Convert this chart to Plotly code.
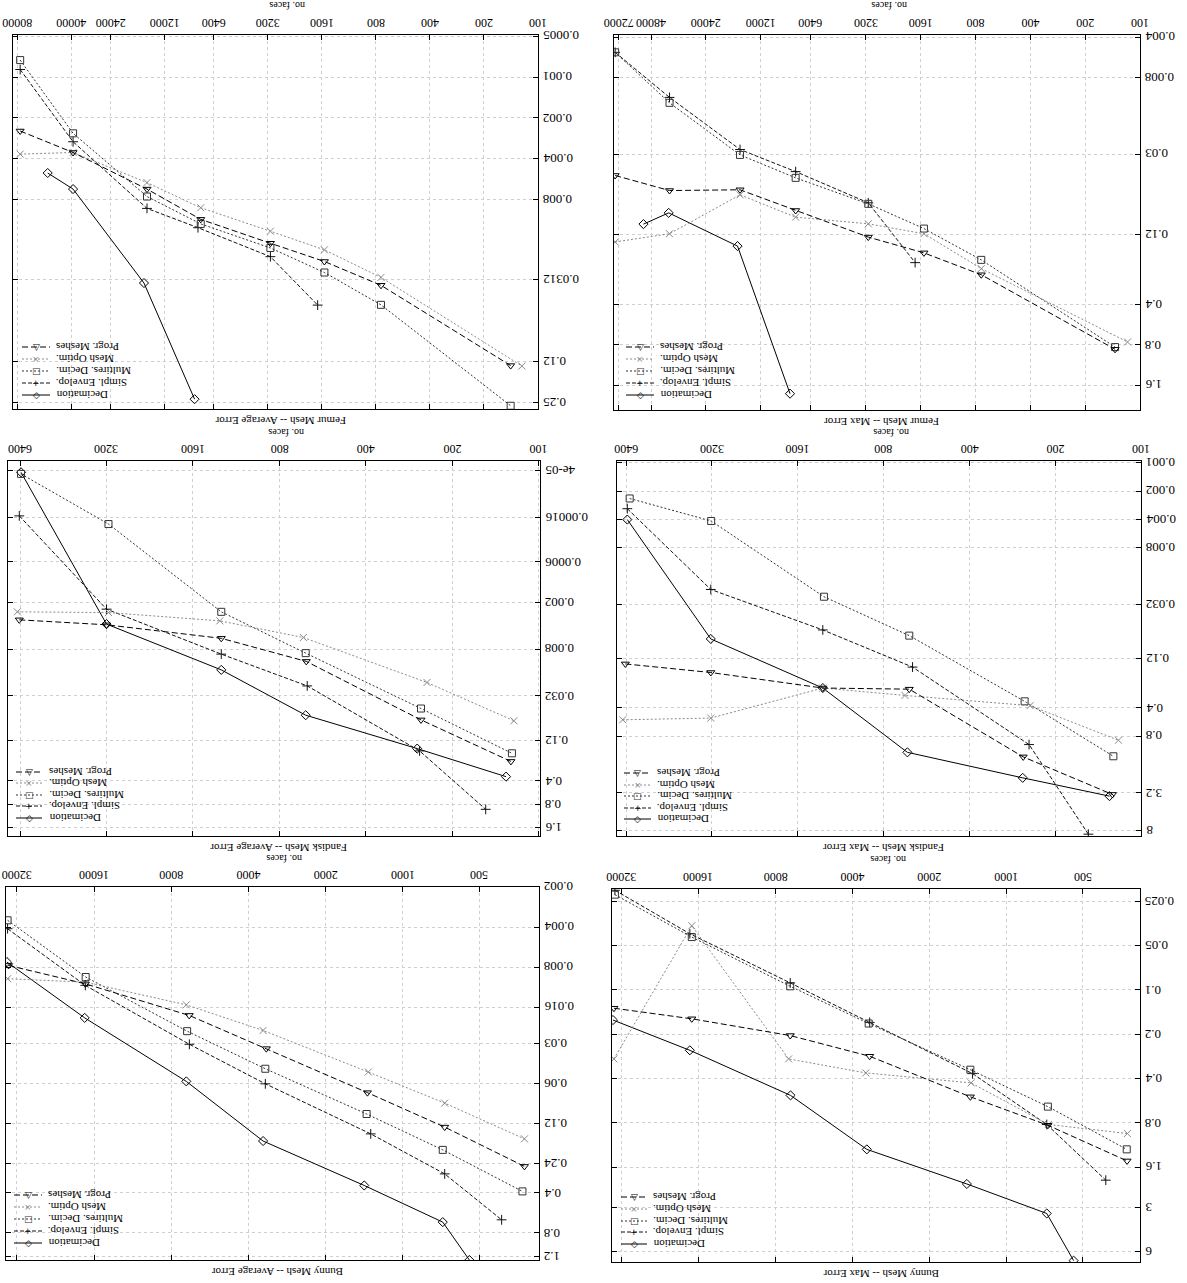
import math
import plotly.graph_objects as go

W, H = 1187, 1283
FONT = "Liberation Serif"

SERIES_NAMES = ["Decimation", "Simpl. Envelop.", "Multires. Decim.", "Mesh Optim.", "Progr. Meshes"]

# ---------------- Femur, average error ----------------
FA_DEC_X = [54000, 39000, 15700, 8200]
FA_DEC_Y = [0.0051, 0.0067, 0.033, 0.237]
FA_SIM_X = [76900, 39000, 15100, 7850, 3100, 1690]
FA_SIM_Y = [0.00088, 0.0030, 0.0093, 0.0129, 0.0211, 0.048]
FA_MUL_X = [76900, 39000, 15100, 7580, 3100, 1550, 750, 142]
FA_MUL_Y = [0.00075, 0.0026, 0.0076, 0.0121, 0.0182, 0.0276, 0.0478, 0.265]
FA_OPT_X = [76900, 39000, 15100, 7580, 3100, 1550, 750, 123]
FA_OPT_Y = [0.0037, 0.0036, 0.0060, 0.0092, 0.0137, 0.0188, 0.030, 0.135]
FA_PRO_X = [76900, 39000, 15100, 7580, 3100, 1550, 750, 142]
FA_PRO_Y = [0.0025, 0.0036, 0.0067, 0.0112, 0.0168, 0.0229, 0.0343, 0.134]

# ---------------- Femur, max error ----------------
FM_DEC_X = [52800, 38400, 16100, 8300]
FM_DEC_Y = [0.100, 0.0824, 0.146, 1.85]
FM_SIM_X = [75500, 38000, 15600, 7730, 3090, 1710]
FM_SIM_Y = [0.0052, 0.0113, 0.0277, 0.0405, 0.0693, 0.194]
FM_MUL_X = [75500, 38000, 15600, 7730, 3090, 1530, 742, 137]
FM_MUL_Y = [0.0052, 0.0124, 0.0304, 0.0451, 0.0705, 0.108, 0.185, 0.83]
FM_OPT_X = [75500, 38000, 15600, 7730, 3090, 1530, 742, 117]
FM_OPT_Y = [0.136, 0.118, 0.0604, 0.0887, 0.0995, 0.118, 0.215, 0.76]
FM_PRO_X = [75500, 38000, 15600, 7730, 3090, 1530, 742, 137]
FM_PRO_Y = [0.0433, 0.0561, 0.0554, 0.0791, 0.125, 0.164, 0.239, 0.862]

# ---------------- Fandisk, average error ----------------
DA_DEC_X = [6350, 3200, 1275, 648, 265, 130]
DA_DEC_Y = [4.2e-05, 0.0038, 0.0148, 0.0568, 0.153, 0.352]
DA_SIM_X = [6440, 3200, 1275, 640, 260, 153]
DA_SIM_Y = [0.000153, 0.00244, 0.00927, 0.0238, 0.164, 0.929]
DA_MUL_X = [6350, 3150, 1275, 648, 257, 124]
DA_MUL_Y = [4.4e-05, 0.000195, 0.00264, 0.0090, 0.0466, 0.176]
DA_OPT_X = [6540, 3150, 1290, 660, 245, 122]
DA_OPT_Y = [0.00264, 0.0027, 0.00345, 0.00566, 0.0215, 0.067]
DA_PRO_X = [6440, 3200, 1275, 645, 257, 125]
DA_PRO_Y = [0.00335, 0.00388, 0.0058, 0.0115, 0.0653, 0.224]

# ---------------- Fandisk, max error ----------------
DM_DEC_X = [6340, 3230, 1307, 660, 260, 129]
DM_DEC_Y = [0.00402, 0.0744, 0.247, 1.19, 2.22, 3.47]
DM_SIM_X = [6340, 3230, 1307, 633, 247, 153]
DM_SIM_Y = [0.00308, 0.0222, 0.0597, 0.148, 0.984, 8.8]
DM_MUL_X = [6220, 3220, 1295, 650, 256, 125]
DM_MUL_Y = [0.0024, 0.00416, 0.0265, 0.0686, 0.342, 1.31]
DM_OPT_X = [6580, 3230, 1307, 673, 245, 120]
DM_OPT_Y = [0.537, 0.515, 0.247, 0.296, 0.38, 0.885]
DM_PRO_X = [6440, 3230, 1307, 650, 259, 126]
DM_PRO_Y = [0.137, 0.169, 0.247, 0.254, 1.33, 3.33]

# ---------------- Bunny, average error ----------------
BA_DEC_X = [35000, 17400, 6980, 3500, 1410, 696, 548]
BA_DEC_Y = [0.00734, 0.0193, 0.058, 0.163, 0.352, 0.664, 1.28]
BA_SIM_X = [34800, 17300, 6790, 3430, 1330, 684, 410]
BA_SIM_Y = [0.00412, 0.0110, 0.0305, 0.0605, 0.144, 0.288, 0.638]
BA_MUL_X = [34800, 17250, 6930, 3430, 1380, 696, 340]
BA_MUL_Y = [0.00356, 0.00951, 0.0243, 0.0466, 0.102, 0.19, 0.39]
BA_OPT_X = [34800, 17300, 6980, 3500, 1360, 684, 334]
BA_OPT_Y = [0.0098, 0.0104, 0.0154, 0.024, 0.0493, 0.0845, 0.157]
BA_PRO_X = [34500, 17300, 6800, 3400, 1370, 684, 334]
BA_PRO_Y = [0.00778, 0.0107, 0.0185, 0.0329, 0.0705, 0.128, 0.253]

# ---------------- Bunny, max error ----------------
BM_DEC_X = [34600, 17300, 6980, 3510, 1424, 693, 544]
BM_DEC_Y = [0.16, 0.257, 0.52, 1.21, 2.08, 3.3, 6.9]
BM_SIM_X = [34000, 17300, 7000, 3420, 1353, 693, 407]
BM_SIM_Y = [0.021, 0.0415, 0.0895, 0.166, 0.37, 0.82, 1.96]
BM_MUL_X = [34000, 17000, 7000, 3450, 1380, 686, 337]
BM_MUL_Y = [0.0225, 0.0437, 0.0944, 0.169, 0.348, 0.62, 1.21]
BM_OPT_X = [34300, 17000, 7100, 3540, 1370, 683, 335]
BM_OPT_Y = [0.294, 0.0366, 0.294, 0.366, 0.428, 0.82, 0.945]
BM_PRO_X = [34300, 17000, 7000, 3420, 1380, 686, 336]
BM_PRO_Y = [0.133, 0.157, 0.204, 0.282, 0.532, 0.83, 1.45]

# ---------------- tick labels ----------------
FA_XTICKS = [100, 200, 400, 800, 1600, 3200, 6400, 12000, 24000, 40000, 80000]
FM_XTICKS = [100, 200, 400, 800, 1600, 3200, 6400, 12000, 24000, 48000, 72000]
D_XTICKS = [100, 200, 400, 800, 1600, 3200, 6400]
B_XTICKS = [500, 1000, 2000, 4000, 8000, 16000, 32000]
FA_YTICKS = [0.0005, 0.001, 0.002, 0.004, 0.008, 0.0312, 0.125, 0.25]
FA_YTEXT = ["0.0005", "0.001", "0.002", "0.004", "0.008", "0.0312", "0.12", "0.25"]
FM_YTICKS = [0.004, 0.008, 0.03, 0.12, 0.4, 0.8, 1.6]
DA_YTICKS = [4e-05, 0.00016, 0.0006, 0.002, 0.008, 0.032, 0.12, 0.4, 0.8, 1.6]
DA_YTEXT = ["4e-05", "0.00016", "0.0006", "0.002", "0.008", "0.032", "0.12", "0.4", "0.8", "1.6"]
DM_YTICKS = [0.001, 0.002, 0.004, 0.008, 0.032, 0.12, 0.4, 0.8, 3.2, 8]
BA_YTICKS = [0.002, 0.004, 0.008, 0.016, 0.03, 0.06, 0.12, 0.24, 0.4, 0.8, 1.2]
BM_YTICKS = [0.025, 0.05, 0.1, 0.2, 0.4, 0.8, 1.6, 3, 6]

TITLES = ["Femur Mesh -- Average Error", "Femur Mesh -- Max Error",
          "Fandisk Mesh -- Average Error", "Fandisk Mesh -- Max Error",
          "Bunny Mesh -- Average Error", "Bunny Mesh -- Max Error"]

STYLES = [
    dict(color="#000000", dash="solid", symbol="diamond-open", glyph="\u25c7"),
    dict(color="#111111", dash="4px,2px", symbol="cross-thin-open", glyph="+"),
    dict(color="#333333", dash="2px,2px", symbol="square-open", glyph="\u25a1"),
    dict(color="#8a8a8a", dash="2px,2px", symbol="x-thin-open", glyph="\u00d7"),
    dict(color="#000000", dash="6px,3px", symbol="triangle-down-open", glyph="\u25bd"),
]

panels = [
    dict(frame=(13, 538, 35, 409), xr=(100, 84300), yr=(0.00049, 0.28),
         xt=FA_XTICKS, xtt=[str(v) for v in FA_XTICKS], yt=FA_YTICKS, ytt=FA_YTEXT,
         data=[(FA_DEC_X, FA_DEC_Y), (FA_SIM_X, FA_SIM_Y), (FA_MUL_X, FA_MUL_Y),
               (FA_OPT_X, FA_OPT_Y), (FA_PRO_X, FA_PRO_Y)],
         leg=(22, 50, 54, [347, 359, 371, 383, 395])),
    dict(frame=(614, 1140, 35, 410), xr=(100, 76600), yr=(0.00386, 2.45),
         xt=FM_XTICKS, xtt=[str(v) for v in FM_XTICKS], yt=FM_YTICKS,
         ytt=[str(v) for v in FM_YTICKS],
         data=[(FM_DEC_X, FM_DEC_Y), (FM_SIM_X, FM_SIM_Y), (FM_MUL_X, FM_MUL_Y),
               (FM_OPT_X, FM_OPT_Y), (FM_PRO_X, FM_PRO_Y)],
         leg=(626, 654, 658, [347, 359, 371, 383, 395])),
    dict(frame=(8, 540, 461, 836), xr=(99, 7050), yr=(3.0e-05, 2.05),
         xt=D_XTICKS, xtt=[str(v) for v in D_XTICKS], yt=DA_YTICKS, ytt=DA_YTEXT,
         data=[(DA_DEC_X, DA_DEC_Y), (DA_SIM_X, DA_SIM_Y), (DA_MUL_X, DA_MUL_Y),
               (DA_OPT_X, DA_OPT_Y), (DA_PRO_X, DA_PRO_Y)],
         leg=(16, 42, 47, [772, 783, 795, 806, 818])),
    dict(frame=(617, 1141, 461, 836), xr=(100, 6890), yr=(0.00096, 9.2),
         xt=D_XTICKS, xtt=[str(v) for v in D_XTICKS], yt=DM_YTICKS,
         ytt=[str(v) for v in DM_YTICKS],
         data=[(DM_DEC_X, DM_DEC_Y), (DM_SIM_X, DM_SIM_Y), (DM_MUL_X, DM_MUL_Y),
               (DM_OPT_X, DM_OPT_Y), (DM_PRO_X, DM_PRO_Y)],
         leg=(624, 651, 655, [773, 785, 796, 808, 819])),
    dict(frame=(6, 539, 887, 1260), xr=(293, 35300), yr=(0.002, 1.28),
         xt=B_XTICKS, xtt=[str(v) for v in B_XTICKS], yt=BA_YTICKS,
         ytt=[str(v) for v in BA_YTICKS],
         data=[(BA_DEC_X, BA_DEC_Y), (BA_SIM_X, BA_SIM_Y), (BA_MUL_X, BA_MUL_Y),
               (BA_OPT_X, BA_OPT_Y), (BA_PRO_X, BA_PRO_Y)],
         leg=(14, 42, 46, [1195, 1207, 1219, 1231, 1243])),
    dict(frame=(612, 1140, 889, 1262), xr=(299, 34900), yr=(0.0206, 7.05),
         xt=B_XTICKS, xtt=[str(v) for v in B_XTICKS], yt=BM_YTICKS,
         ytt=[str(v) for v in BM_YTICKS],
         data=[(BM_DEC_X, BM_DEC_Y), (BM_SIM_X, BM_SIM_Y), (BM_MUL_X, BM_MUL_Y),
               (BM_OPT_X, BM_OPT_Y), (BM_PRO_X, BM_PRO_Y)],
         leg=(621, 647, 651, [1197, 1209, 1221, 1232, 1244])),
]


def px(x):
    return x / W


def py(y):
    return 1 - y / H


fig = go.Figure()
annotations = []
shapes = []
layout = {}
XTICKFONT = dict(family=FONT, size=12, color="black")
YTICKFONT = dict(family=FONT, size=13, color="black")

for i, p in enumerate(panels, start=1):
    l, r, t, b = p["frame"]
    xa = "x" if i == 1 else f"x{i}"
    ya = "y" if i == 1 else f"y{i}"
    for k, ((xs, ys), st) in enumerate(zip(p["data"], STYLES)):
        fig.add_trace(go.Scatter(
            x=xs, y=ys, xaxis=xa, yaxis=ya, mode="lines+markers",
            name=SERIES_NAMES[k], showlegend=False,
            line=dict(color=st["color"], width=1, dash=st["dash"]),
            marker=dict(symbol=st["symbol"], size=7, color=st["color"],
                        line=dict(width=1, color=st["color"])),
        ))
    common = dict(type="log", showline=True, linecolor="black", linewidth=1,
                  mirror="allticks", ticks="inside", ticklen=5, tickcolor="black",
                  showgrid=True, gridcolor="#cfcfcf", griddash="dot", gridwidth=1,
                  zeroline=False, showticklabels=False, automargin=False)
    layout["xaxis" if i == 1 else f"xaxis{i}"] = dict(
        common, domain=[px(l), px(r)], anchor=ya, side="top",
        range=[math.log10(p["xr"][1]), math.log10(p["xr"][0])],
        tickvals=p["xt"])
    layout["yaxis" if i == 1 else f"yaxis{i}"] = dict(
        common, domain=[py(b), py(t)], anchor=xa, side="right",
        range=[math.log10(p["yr"][1]), math.log10(p["yr"][0])],
        tickvals=p["yt"])
    # upside-down tick labels, placed on the axis scales
    for v, s in zip(p["xt"], p["xtt"]):
        annotations.append(dict(text=s, x=math.log10(v), xref=xa, y=py(t - 3), yref="paper",
                                xanchor="center", yanchor="bottom", showarrow=False,
                                textangle=180, font=XTICKFONT))
    for v, s in zip(p["yt"], p["ytt"]):
        annotations.append(dict(text=s, x=px(r + 3), xref="paper", y=math.log10(v), yref=ya,
                                xanchor="left", yanchor="middle", showarrow=False,
                                textangle=180, font=YTICKFONT))
    cx = (l + r) / 2
    annotations.append(dict(text=TITLES[i - 1], x=px(cx + 5), y=py(b + 12), xref="paper",
                            yref="paper", showarrow=False, textangle=180,
                            xanchor="center", yanchor="middle",
                            font=dict(family=FONT, size=11, color="black")))
    annotations.append(dict(text="no. faces", x=px(cx + 12), y=py(t - 29), xref="paper",
                            yref="paper", showarrow=False, textangle=180,
                            xanchor="center", yanchor="middle",
                            font=dict(family=FONT, size=10, color="black")))
    # legend (upside down, inside the frame)
    x0, x1, xt0, rows = p["leg"]
    order = [4, 3, 2, 1, 0]
    for row_y, k in zip(rows, order):
        st = STYLES[k]
        shapes.append(dict(type="line", xref="paper", yref="paper",
                           x0=px(x0), x1=px(x1), y0=py(row_y), y1=py(row_y),
                           line=dict(color=st["color"], width=1, dash=st["dash"])))
        annotations.append(dict(text=st["glyph"], x=px((x0 + x1) / 2), y=py(row_y),
                                xref="paper", yref="paper", showarrow=False,
                                font=dict(family="DejaVu Sans", size=9, color=st["color"]),
                                xanchor="center", yanchor="middle"))
        annotations.append(dict(text=SERIES_NAMES[k], x=px(xt0), y=py(row_y),
                                xref="paper", yref="paper", showarrow=False,
                                textangle=180, xanchor="left", yanchor="middle",
                                font=dict(family=FONT, size=11, color="black")))

fig.update_layout(
    width=W, height=H,
    margin=dict(l=0, r=0, t=0, b=0, pad=0, autoexpand=False),
    paper_bgcolor="white", plot_bgcolor="white",
    annotations=annotations, shapes=shapes, **layout)

fig.write_html("out.html", config={"displayModeBar": False},
               post_script="document.body.style.margin='0';")
